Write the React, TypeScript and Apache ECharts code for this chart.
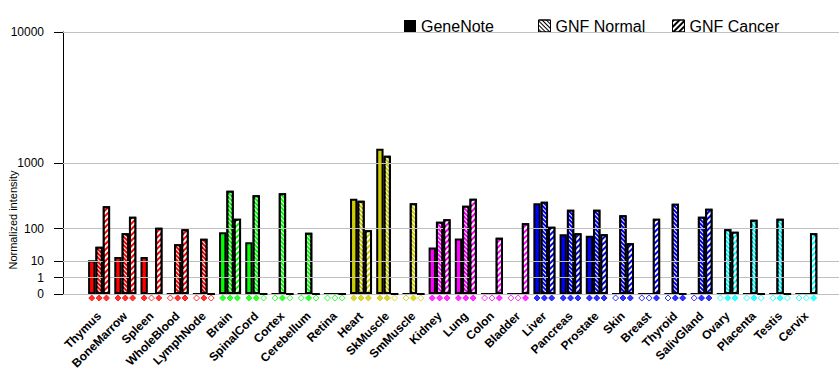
import React, { useEffect, useRef } from "react";
import * as echarts from "echarts";

const categories = [
  "Thymus", "BoneMarrow", "Spleen", "WholeBlood", "LymphNode",
  "Brain", "SpinalCord", "Cortex", "Cerebellum", "Retina",
  "Heart", "SkMuscle", "SmMuscle",
  "Kidney", "Lung", "Colon", "Bladder",
  "Liver", "Pancreas", "Prostate", "Skin", "Breast", "Thyroid", "SalivGland",
  "Ovary", "Placenta", "Testis", "Cervix",
];

const tissueColors = [
  "#FF0000", "#FF0000", "#FF0000", "#FF0000", "#FF0000",
  "#00FF00", "#00FF00", "#00FF00", "#00FF00", "#00FF00",
  "#CCCC00", "#CCCC00", "#CCCC00",
  "#FF00FF", "#FF00FF", "#FF00FF", "#FF00FF",
  "#0000FF", "#0000FF", "#0000FF", "#0000FF", "#0000FF", "#0000FF", "#0000FF",
  "#00FFFF", "#00FFFF", "#00FFFF", "#00FFFF",
];

const geneNote = [11, 15, 15, 0, 0, 82, 46, 0, 0, 0, 348, 1410, 0, 32, 58, 0, 0, 295, 74, 68, 0, 0, 0, 0, 0, 0, 0, 0];
const gnfNormal = [34, 78, 0, 40, 57, 454, 390, 417, 80, 0, 324, 1197, 295, 139, 270, 0, 0, 313, 231, 231, 184, 0, 291, 173, 96, 152, 159, 0];
const gnfCancer = [265, 173, 104, 96, 0, 159, 0, 0, 0, 0, 91, 0, 0, 155, 348, 60, 129, 109, 78, 74, 43, 159, 0, 240, 85, 0, 0, 78];

// presence calls (1 = filled diamond, 0 = hollow diamond)
const callGeneNote = [1, 1, 1, 0, 0, 1, 1, 0, 0, 0, 1, 1, 0, 1, 1, 0, 0, 1, 1, 1, 0, 0, 0, 0, 0, 0, 0, 0];
const callGnfNormal = [1, 1, 0, 1, 1, 1, 1, 1, 1, 0, 1, 1, 1, 1, 1, 0, 0, 1, 1, 1, 1, 0, 1, 1, 1, 1, 1, 0];
const callGnfCancer = [1, 1, 1, 1, 0, 1, 0, 0, 0, 0, 1, 0, 0, 1, 1, 1, 1, 1, 1, 1, 1, 1, 1, 1, 1, 0, 0, 1];

const tickValues = [0, 1, 10, 100, 1000, 10000];

const EXP = Math.log10(2);
const tf = (v: number) => (v <= 0 ? 0 : Math.pow(v, EXP));

const normalDecal = {
  symbol: "rect",
  symbolSize: 1,
  dashArrayX: [1, 0],
  dashArrayY: [1, 2],
  rotation: Math.PI / 4,
  color: "#FFFFFF",
};
const cancerDecal = {
  symbol: "rect",
  symbolSize: 1,
  dashArrayX: [1, 0],
  dashArrayY: [2, 2],
  rotation: -Math.PI / 4,
  color: "#FFFFFF",
};

export default function App() {
  const ref = useRef<HTMLDivElement>(null);
  useEffect(() => {
    if (!ref.current) return;
    const chart = echarts.init(ref.current, undefined, { renderer: "svg" });
    const band = (819.4 - 86) / categories.length;
    const bw = (band * 0.84) / 3;

    const barSeries = (name: string, vals: number[], decal: any, idx: number) => ({
      type: "bar",
      name,
      xAxisIndex: 1,
      yAxisIndex: 1,
      barGap: "0%",
      barCategoryGap: "16%",
      itemStyle: decal
        ? { color: "#000", borderColor: "#000", borderWidth: 2, decal }
        : { color: "#000", borderColor: "#000", borderWidth: 2 },
      data: vals.map((v, i) => ({ value: tf(v), itemStyle: { color: tissueColors[i] } })),
      z: 3 + idx,
    });

    const diamondSeries = (calls: number[], dx: number) => ({
      type: "scatter",
      xAxisIndex: 1,
      yAxisIndex: 1,
      symbol: "diamond",
      symbolSize: 6,
      symbolOffset: [dx, 4],
      clip: false,
      silent: true,
      data: calls.map((c, i) => ({
        value: 0,
        itemStyle: c
          ? { color: tissueColors[i], borderColor: tissueColors[i], borderWidth: 1 }
          : { color: "#FFFFFF", borderColor: tissueColors[i], borderWidth: 1 },
      })),
      z: 10,
    });

    const legendBase = {
      orient: "horizontal",
      top: 13,
      itemWidth: 12,
      itemHeight: 12,
      selectedMode: false,
      icon: "rect",
      textStyle: { fontSize: 16, color: "#000", fontFamily: "Arial" },
    };

    chart.setOption({
      animation: false,
      grid: [
        { left: 63, right: 1, top: 32, bottom: 91 },
        { left: 86, right: 840 - 819.4, top: 32, bottom: 91 },
      ],
      legend: [
        {
          ...legendBase,
          left: 399,
          data: [{ name: "GeneNote", itemStyle: { color: "#000", borderWidth: 0 } }],
        },
        {
          ...legendBase,
          left: 533,
          data: [
            {
              name: "GNF Normal",
              itemStyle: {
                color: "#FFFFFF",
                borderColor: "#000",
                borderWidth: 1,
                decal: { ...normalDecal, color: "#000" },
              },
            },
          ],
        },
        {
          ...legendBase,
          left: 667,
          data: [
            {
              name: "GNF Cancer",
              itemStyle: {
                color: "#FFFFFF",
                borderColor: "#000",
                borderWidth: 1,
                decal: { ...cancerDecal, color: "#000" },
              },
            },
          ],
        },
      ],
      xAxis: [
        { type: "value", gridIndex: 0, min: 0, max: 1, show: false },
        {
          type: "category",
          gridIndex: 1,
          data: categories,
          axisLine: { show: false },
          axisTick: { show: false },
          axisLabel: {
            interval: 0,
            rotate: 45,
            margin: 20,
            fontSize: 12,
            fontWeight: "bold",
            fontFamily: "Arial",
            color: "#000",
          },
        },
      ],
      yAxis: [
        {
          type: "value",
          gridIndex: 0,
          min: 0,
          max: 16,
          axisLine: { show: true, lineStyle: { color: "#000", width: 1 } },
          axisTick: {
            show: true,
            length: 9,
            customValues: tickValues.map(tf),
            lineStyle: { color: "#000" },
          },
          axisLabel: {
            customValues: tickValues.map(tf),
            margin: 19,
            fontSize: 12,
            fontFamily: "Arial",
            color: "#000",
            formatter: (v: number) => {
              const i = tickValues.findIndex((t) => Math.abs(tf(t) - v) < 1e-6);
              return i >= 0 ? String(tickValues[i]) : "";
            },
          },
          splitLine: { show: false },
        },
        { type: "value", gridIndex: 1, min: 0, max: 16, show: false },
      ],
      graphic: [
        {
          type: "text",
          x: 13,
          y: 220,
          rotation: Math.PI / 2,
          style: {
            text: "Normalized intensity",
            fontSize: 11,
            fontFamily: "Arial",
            fill: "#000",
            align: "center",
            verticalAlign: "middle",
          },
        },
      ],
      series: [
        {
          type: "line",
          xAxisIndex: 0,
          yAxisIndex: 0,
          data: [[0, 0]],
          showSymbol: false,
          symbol: "none",
          lineStyle: { opacity: 0 },
          silent: true,
          z: 1,
          markLine: {
            silent: true,
            symbol: "none",
            label: { show: false },
            lineStyle: { color: "#C0C0C0", type: "solid", width: 1 },
            data: tickValues.map((t) => ({ yAxis: tf(t) })),
          },
        },
        barSeries("GeneNote", geneNote, null, 0),
        barSeries("GNF Normal", gnfNormal, normalDecal, 1),
        barSeries("GNF Cancer", gnfCancer, cancerDecal, 2),
        diamondSeries(callGeneNote, -bw),
        diamondSeries(callGnfNormal, 0),
        diamondSeries(callGnfCancer, bw),
      ],
    });
    return () => chart.dispose();
  }, []);
  return <div ref={ref} style={{ width: 840, height: 385, position: "absolute", left: 0, top: 0 }} />;
}
